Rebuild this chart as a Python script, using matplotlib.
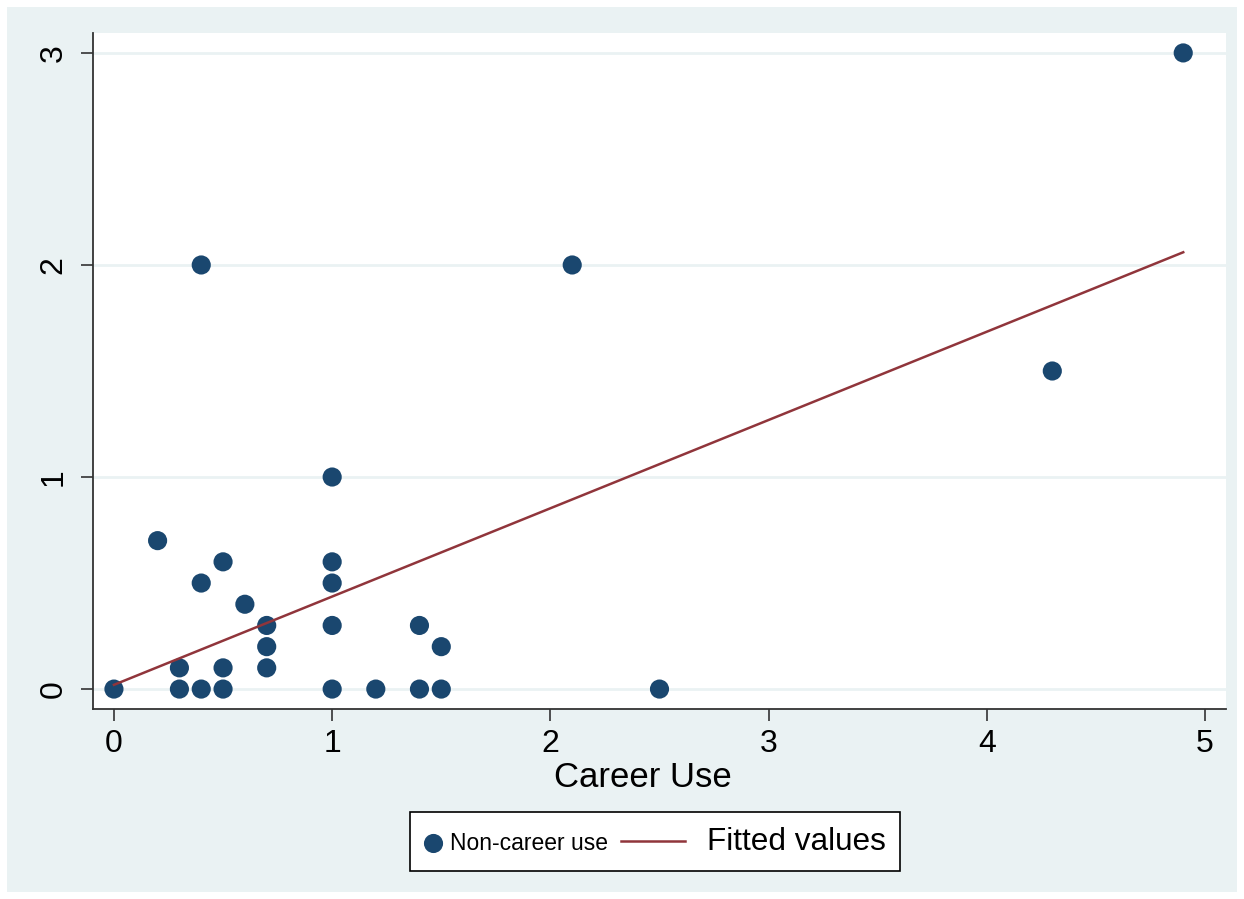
import numpy as np
import matplotlib
matplotlib.use("Agg")
import matplotlib.pyplot as plt
from matplotlib.patches import Rectangle
from matplotlib.lines import Line2D
from matplotlib.legend_handler import HandlerBase

plt.rcParams['font.family'] = ['Liberation Sans', 'DejaVu Sans']

# career use vs non-career use
career = [0, 0.2, 0.3, 0.3, 0.4, 0.4, 0.4, 0.5, 0.5, 0.5, 0.6, 0.7, 0.7, 0.7,
          1, 1, 1, 1, 1, 1.2, 1.4, 1.4, 1.5, 1.5, 2.1, 2.5, 4.3, 4.9]
noncareer = [0, 0.7, 0.1, 0, 0, 0.5, 2, 0.6, 0.1, 0, 0.4, 0.3, 0.2, 0.1,
             1, 0.6, 0.5, 0.3, 0, 0, 0.3, 0, 0.2, 0, 2, 0, 1.5, 3]
# fitted line end points as drawn in the chart
fit_x = [0, 4.9]
fit_y = [0.02, 2.06]
xticks = [0, 1, 2, 3, 4, 5]
yticks = [0, 1, 2, 3]

navy = '#1A476F'
maroon = '#90353B'
bg = '#EAF2F3'


# legend line that reaches back into the column gap (Stata style key)
class WideLine(HandlerBase):
    def create_artists(self, legend, orig_handle, xdescent, ydescent,
                       width, height, fontsize, trans):
        yc = (height - 2 * ydescent) / 2
        x0 = -xdescent - 2.66 * fontsize
        x1 = -xdescent + 0.17 * fontsize
        ln = Line2D([x0, x1], [yc, yc], color=orig_handle.get_color(),
                    linewidth=orig_handle.get_linewidth(), transform=trans)
        return [ln]


fig = plt.figure(figsize=(12.44, 8.99), dpi=100)
fig.patch.set_facecolor('white')
fig.patches.append(Rectangle((7 / 1244, 7 / 899), 1230 / 1244, 885 / 899,
                             transform=fig.transFigure, facecolor=bg,
                             edgecolor='none', zorder=-10))

ax = fig.add_axes([93 / 1244, 1 - 709 / 899, 1133 / 1244, 676 / 899])
ax.set_facecolor('white')

for t in yticks:
    ax.axhline(t, color=bg, linewidth=2, zorder=1)

sc = ax.scatter(career, noncareer, s=190, color=navy, edgecolors='none',
                zorder=3, label='Non-career use')
fit, = ax.plot(fit_x, fit_y, color=maroon, linewidth=1.8, zorder=4,
               label='Fitted values')

ax.set_xlim(-0.096, 5.096)
ax.set_ylim(-0.094, 3.094)
ax.set_xticks(xticks)
ax.set_yticks(yticks)
ax.tick_params(axis='both', direction='out', length=8.6, width=1.2,
               color='#333333', labelsize=23)
ax.tick_params(axis='x', pad=5.5)
ax.tick_params(axis='y', pad=9)
for lab in ax.get_yticklabels():
    lab.set_rotation(90)
    lab.set_va('center')

for s in ['top', 'right']:
    ax.spines[s].set_visible(False)
for s in ['left', 'bottom']:
    ax.spines[s].set_color('#333333')
    ax.spines[s].set_linewidth(1.3)

ax.set_xlabel('Career Use', fontsize=25)
ax.xaxis.set_label_coords(0.4854, -0.101)
ax.xaxis.label.set_va('center')

leg = fig.legend([sc, fit], ['Non-career use', 'Fitted values'],
                 handler_map={Line2D: WideLine()},
                 loc='center', bbox_to_anchor=(655 / 1244, 1 - 841.5 / 899),
                 ncol=2, frameon=True, fancybox=False, framealpha=1,
                 edgecolor='black', handlelength=0.8, columnspacing=3.23,
                 handletextpad=0.3, borderpad=0.62, fontsize=16.5,
                 scatterpoints=1)
leg.get_frame().set_linewidth(1.2)
leg.get_texts()[1].set_fontsize(22.7)

fig.savefig('out.png', dpi=100, facecolor='white')
